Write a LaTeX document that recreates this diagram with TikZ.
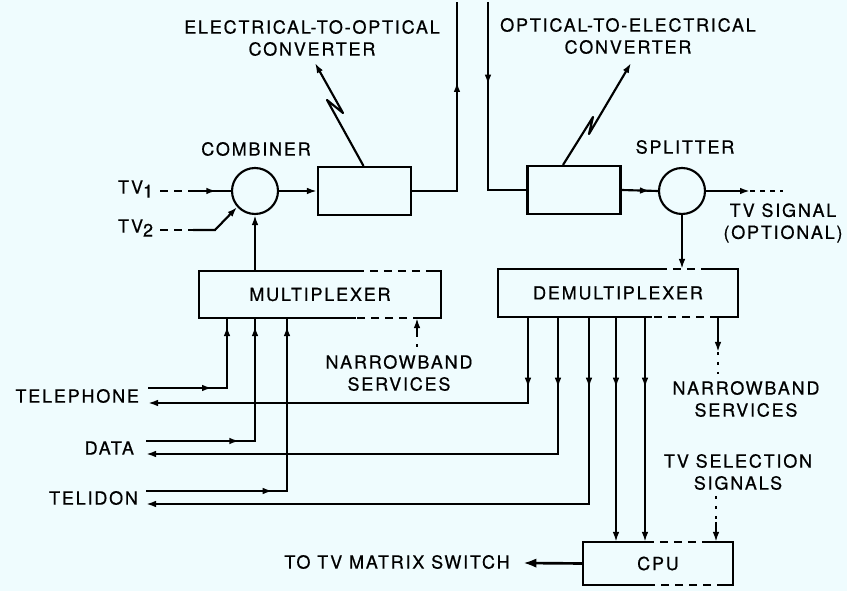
\documentclass[tikz,border=0pt]{standalone}
\usepackage{fontspec}
\setmainfont{TeX Gyre Heros}[LetterSpace=10,FakeBold=0.6]
\usetikzlibrary{arrows.meta,decorations.markings,calc}
\definecolor{bgc}{RGB}{239,252,254}
\begin{document}
\begin{tikzpicture}[x=0.75pt,y=-0.75pt,line width=1.6pt,
  >={Latex[length=7.5pt,width=5pt]},
  lbl/.style={font=\fontsize{13.5}{16.5}\selectfont,align=center,inner sep=0pt},
  circ/.style={draw,circle,minimum size=34.5pt,inner sep=0pt},
  bx/.style={draw,rectangle,minimum width=69.75pt,minimum height=36pt,inner sep=0pt},
  blk/.style={rectangle,inner sep=0pt,font=\fontsize{13.5}{16.5}\selectfont},
  dsh/.style={dash pattern=on 6pt off 4.5pt},
  sdsh/.style={dash pattern=on 4pt off 3.5pt},
  dts/.style={dash pattern=on 2pt off 5.5pt},
  mk/.style={postaction={decorate,decoration={markings,mark=at position #1 with {\arrow{Latex[length=7.5pt,width=5pt]}}}}},
  bolt/.style={line join=round,->}]
\fill[bgc] (0,0) rectangle (847,591);
\useasboundingbox (0,0) rectangle (847,591);

% main blocks
\node[circ] (comb) at (255,191) {};
\node[bx] (eo) at (364.5,191) {};
\node[bx] (oe) at (574,190) {};
\node[circ] (split) at (682,191) {};
\node[blk,minimum width=180pt,minimum height=33.75pt] (mux) at (320,294.5) {MULTIPLEXER};
\node[blk,minimum width=178.5pt,minimum height=34.5pt] (demux) at (618,293) {DEMULTIPLEXER};
\node[blk,minimum width=111pt,minimum height=30.75pt] (cpu) at (658,563.5) {CPU};

% box outlines with dashed parts
\draw ($(mux.north west)+(157,0)$) -- (mux.north west) -- (mux.south west) -- ($(mux.south west)+(157,0)$);
\draw[dsh] ($(mux.north west)+(157,0)$) -- ($(mux.north east)+(-12,0)$);
\draw ($(mux.north east)+(-12,0)$) -- (mux.north east) -- (mux.south east) -- ($(mux.south east)+(-20,0)$);
\draw[dsh] ($(mux.south east)+(-20,0)$) -- ($(mux.south west)+(157,0)$);

\draw ($(demux.north west)+(161,0)$) -- (demux.north west) -- (demux.south west) -- ($(demux.south west)+(154,0)$);
\draw[dsh] ($(demux.north west)+(161,0)$) -- ($(demux.north east)+(-34,0)$);
\draw ($(demux.north east)+(-34,0)$) -- (demux.north east) -- (demux.south east) -- ($(demux.south east)+(-20,0)$);
\draw[dsh] ($(demux.south east)+(-20,0)$) -- ($(demux.south west)+(154,0)$);

\draw ($(cpu.north west)+(63,0)$) -- (cpu.north west) -- (cpu.south west) -- ($(cpu.south west)+(68,0)$);
\draw[dsh] ($(cpu.north west)+(63,0)$) -- ($(cpu.north east)+(-24,0)$);
\draw ($(cpu.north east)+(-24,0)$) -- (cpu.north east) -- (cpu.south east) -- ($(cpu.south east)+(-8,0)$);
\draw[dsh] ($(cpu.south east)+(-8,0)$) -- ($(cpu.south west)+(68,0)$);

% labels
\node[lbl] (eolbl) at (312,38) {ELECTRICAL-TO-OPTICAL\\CONVERTER};
\node[lbl] (oelbl) at (628,36) {OPTICAL-TO-ELECTRICAL\\CONVERTER};
\node[lbl] (comblbl) at (256,149) {COMBINER};
\node[lbl] (splitlbl) at (685,147) {SPLITTER};
\node[lbl] (tvsig) at (783,223) {TV SIGNAL\\(OPTIONAL)};
\node[lbl] (nbl) at (399,373) {NARROWBAND\\SERVICES};
\node[lbl] (nbr) at (746,399) {NARROWBAND\\SERVICES};
\node[lbl] (tvsel) at (738,472) {TV SELECTION\\SIGNALS};
\node[lbl] (tomx) at (397,562) {TO TV MATRIX SWITCH};
\node[lbl,anchor=west] (tv1) at (117,189) {TV\raisebox{-3pt}{1}};
\node[lbl,anchor=west] (tv2) at (117,228) {TV\raisebox{-3pt}{2}};
\node[lbl,anchor=east] (tel) at (140,396) {TELEPHONE};
\node[lbl,anchor=east] (dat) at (135,448) {DATA};
\node[lbl,anchor=east] (tld) at (139,498) {TELIDON};

% coordinates
\coordinate (tv1a) at (160,191);
\coordinate (tv1b) at (190,191);
\coordinate (tv2a) at (160,230);
\coordinate (tv2b) at (193,230);
\coordinate (tv2c) at (215,230);
\coordinate (eoup) at (457,191);
\coordinate (eotop) at (457,2);
\coordinate (oetop) at (488,2);
\coordinate (oedn) at (488,190);
\coordinate (l1a) at (327,100);
\coordinate (l1b) at (343,113);
\coordinate (l1tip) at (315,63);
\coordinate (l2a) at (593,117);
\coordinate (l2b) at (589,134);
\coordinate (l2tip) at (631,63);
\coordinate (spo) at (750,191);
\coordinate (spoe) at (783,191);
\coordinate (telin) at (148,388);
\coordinate (telb) at (227,388);
\coordinate (datin) at (146,441);
\coordinate (datb) at (255,441);
\coordinate (tdin) at (146,491);
\coordinate (tdb) at (287,491);
\coordinate (telo) at (528,403);
\coordinate (telend) at (148,403);
\coordinate (dato) at (558,454);
\coordinate (datend) at (146,454);
\coordinate (tdo) at (589,504);
\coordinate (tdend) at (146,504);
\coordinate (c1) at (616,400);
\coordinate (c2) at (645,400);
\coordinate (nbrx) at (718,352);
\coordinate (nbrd) at (718,374);
\coordinate (nblx) at (417,334);
\coordinate (nbld) at (417,347);
\coordinate (tvsx) at (716,522);
\coordinate (tvsd) at (716,496);
\coordinate (mxend) at (523,563);

% connectors
\draw[dsh] (tv1a) -- (tv1b);
\draw[mk=-11pt] (tv1b) -- (comb.west);
\draw[dsh] (tv2a) -- (tv2b);
\draw[->] (tv2b) -- (tv2c) -- (comb.222);
\draw[->] (comb.east) -- (eo.west);
\draw[mk=-60pt] (eo.east) -- (eoup) -- (eotop);
\draw[mk=62pt] (oetop) -- (oedn) -- (oe.west);
\draw[bolt] ($(eo.north)+(-1,0)$) -- (l1a) -- (l1b) -- (l1tip);
\draw[bolt] ($(oe.north)+(-11,0)$) -- (l2a) -- (l2b) -- (l2tip);
\draw[mk=-6pt] (oe.east) -- (split.west);
\draw[->] (split.east) -- (spo);
\draw[sdsh] (spo) -- (spoe);
\draw[->] (split.south) -- (split.south |- demux.north);
\draw[->] (comb.south |- mux.north) -- (comb.south);

\draw[mk=48pt,mk=-6pt] (telin) -- (telb) -- (telb |- mux.south);
\draw[mk=70pt,mk=-6pt] (datin) -- (datb) -- (datb |- mux.south);
\draw[mk=95pt,mk=-6pt] (tdin) -- (tdb) -- (tdb |- mux.south);

\draw[->,mk=53pt] (telo |- demux.south) -- (telo) -- (telend);
\draw[->,mk=53pt] (dato |- demux.south) -- (dato) -- (datend);
\draw[->,mk=53pt] (tdo |- demux.south) -- (tdo) -- (tdend);
\draw[->,mk=53pt] (c1 |- demux.south) -- (c1 |- cpu.north);
\draw[->,mk=53pt] (c2 |- demux.south) -- (c2 |- cpu.north);

\draw[->] (nbrx |- demux.south) -- (nbrx);
\draw[dts] (nbrx) -- (nbrd);
\draw[dts] (nbld) -- (nblx);
\draw[->] (nblx) -- (nblx |- mux.south);
\draw[dts] (tvsd) -- (tvsx);
\draw[->] (tvsx) -- (tvsx |- cpu.north);
\draw[line width=2pt,-{Latex[length=10pt,width=7pt]}] (cpu.west) -- (mxend);
\end{tikzpicture}
\end{document}
